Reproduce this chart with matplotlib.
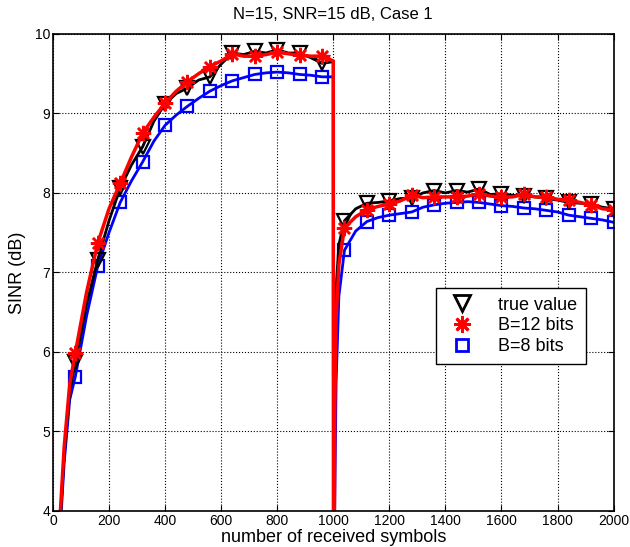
import matplotlib
matplotlib.use('Agg')
import matplotlib.pyplot as plt
from matplotlib.lines import Line2D
import numpy as np

plt.rcParams['font.family'] = ['Liberation Sans', 'DejaVu Sans']

# number of received symbols (training restarts at symbol 1000)
symbols = [20, 40, 60, 80, 120, 160, 200, 240, 280, 320, 360, 400, 440, 480, 520,
           560, 600, 640, 680, 720, 760, 800, 840, 880, 920, 960, 1000,
           1001, 1005, 1010, 1020, 1040, 1080, 1120, 1160, 1200, 1240, 1280, 1320,
           1360, 1400, 1440, 1480, 1520, 1560, 1600, 1640, 1680, 1720, 1760, 1800,
           1840, 1880, 1920, 1960, 2000]

sinr_true = [3.5, 4.7, 5.5, 5.87, 6.6, 7.16, 7.65, 8.06, 8.35, 8.58, 8.9, 9.12, 9.25, 9.32, 9.42,
             9.46, 9.62, 9.76, 9.74, 9.78, 9.76, 9.80, 9.76, 9.76, 9.70, 9.63, 9.65,
             0.0, 5.6, 6.8, 7.35, 7.65, 7.80, 7.87, 7.88, 7.90, 7.93, 7.93, 8.00,
             8.03, 8.00, 8.03, 8.01, 8.05, 7.98, 7.99, 7.97, 7.96, 7.95, 7.93, 7.91,
             7.88, 7.87, 7.86, 7.82, 7.80]

sinr_b12 = [3.6, 4.8, 5.6, 5.99, 6.75, 7.37, 7.8, 8.12, 8.45, 8.75, 8.95, 9.13, 9.28, 9.40, 9.50,
            9.59, 9.66, 9.75, 9.72, 9.72, 9.74, 9.77, 9.75, 9.73, 9.72, 9.72, 9.66,
            0.0, 5.2, 6.4, 7.1, 7.56, 7.70, 7.79, 7.83, 7.86, 7.90, 7.97, 7.94,
            7.95, 7.95, 7.95, 7.96, 7.99, 7.96, 7.95, 7.95, 7.98, 7.95, 7.95, 7.92,
            7.91, 7.88, 7.85, 7.80, 7.79]

sinr_b8 = [3.4, 4.6, 5.4, 5.69, 6.45, 7.08, 7.5, 7.88, 8.15, 8.39, 8.65, 8.85, 8.98, 9.09, 9.19,
           9.28, 9.35, 9.41, 9.45, 9.49, 9.51, 9.52, 9.51, 9.49, 9.48, 9.46, 9.46,
           0.0, 4.0, 5.6, 6.7, 7.28, 7.52, 7.64, 7.69, 7.72, 7.74, 7.76, 7.82,
           7.85, 7.87, 7.88, 7.89, 7.88, 7.86, 7.84, 7.83, 7.81, 7.80, 7.78, 7.76,
           7.72, 7.70, 7.68, 7.66, 7.63]

labels = ['true value', 'B=12 bits', 'B=8 bits']

x = np.array(symbols)
marks = list(np.where(x % 80 == 0)[0])
asterisk = (8, 2, 0)

fig = plt.figure(figsize=(6.3, 5.47), dpi=100)
ax = fig.add_axes([0.084, 0.066, 0.89, 0.872])

ax.plot(x, sinr_b8, color='#0000ff', lw=2, marker='s', ms=8, mfc='none',
        mec='#0000ff', mew=1.6, markevery=marks)
ax.plot(x, sinr_true, color='k', lw=2, marker='v', ms=10, mfc='none',
        mec='k', mew=1.6, markevery=marks)
ax.plot(x, sinr_b12, color='#ff0000', lw=2.5, marker=asterisk, ms=11,
        mec='#ff0000', mew=1.8, markevery=marks)

ax.set_xlim(0, 2000)
ax.set_ylim(4, 10)
ax.set_xticks(range(0, 2001, 200))
ax.set_yticks(range(4, 11))
ax.grid(True, color='k', ls=':', lw=0.8)
ax.tick_params(direction='in', top=True, right=True, labelsize=10, length=4, pad=2)
for s in ax.spines.values():
    s.set_linewidth(1.2)

ax.set_xlabel('number of received symbols', fontsize=13, labelpad=1)
ax.set_ylabel('SINR (dB)', fontsize=13, labelpad=6)
ax.set_title('N=15, SNR=15 dB, Case 1', fontsize=12, pad=11)

handles = [
    Line2D([], [], ls='none', marker='v', ms=11, mfc='none', mec='k', mew=2),
    Line2D([], [], ls='none', marker=asterisk, ms=12, mec='#ff0000', mew=2),
    Line2D([], [], ls='none', marker='s', ms=8, mfc='none', mec='#0000ff', mew=2),
]
leg = ax.legend(handles, labels, loc='upper left', bbox_to_anchor=(0.684, 0.468),
                fontsize=13, fancybox=False, edgecolor='k', framealpha=1,
                handlelength=1.8, handletextpad=1.1, borderpad=0.5, labelspacing=0.2,
                borderaxespad=0)
leg.get_frame().set_linewidth(1.0)

fig.savefig('out.png', dpi=100)
